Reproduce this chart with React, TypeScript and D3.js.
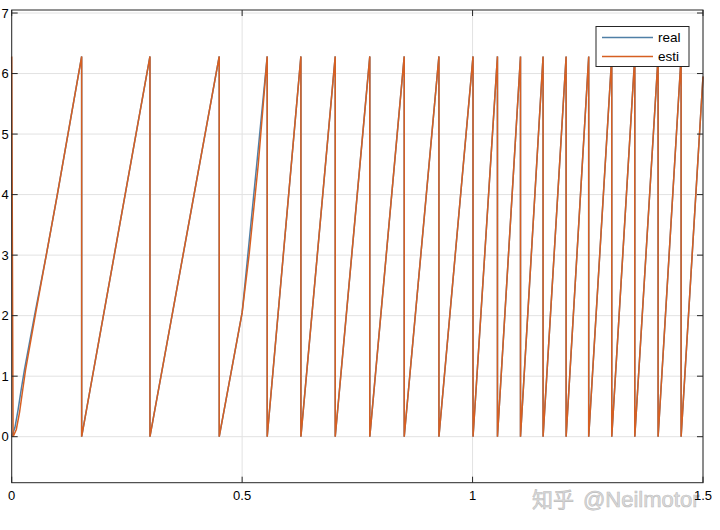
import { useEffect, useRef } from 'react';
import * as d3 from 'd3';

// angle wraps from 2*pi back to 0 at these times (s)
const wrapTimes = [0.1518, 0.300, 0.4503, 0.5544, 0.6275, 0.702, 0.777, 0.8517, 0.927, 1.001,
  1.054, 1.104, 1.153, 1.203, 1.252, 1.302, 1.352, 1.4026, 1.4525];
const peakValue = 6.283;

// start-up ramp before the first wrap
const estiStartT = [0, 0.003, 0.01, 0.017, 0.024, 0.03, 0.051, 0.075, 0.099];
const estiStartV = [6.283, 0, 0.12, 0.4, 0.78, 1.1, 2, 3, 4];
const realStartT = [0, 0.007, 0.014, 0.021, 0.028, 0.05, 0.075, 0.099];
const realStartV = [0, 0.15, 0.45, 0.8, 1.12, 2.02, 3, 4];

// speed change around t = 0.5
const estiMidT = [0.5, 0.515, 0.535];
const estiMidV = [2.05, 3.0, 4.5];
const realMidT = [0.5, 0.513, 0.533];
const realMidV = [2.05, 3.05, 4.6];

const endT = 1.5;
const endV = 5.95;

const xTicks = [0, 0.5, 1, 1.5];
const yTicks = [0, 1, 2, 3, 4, 5, 6, 7];

type Pt = [number, number];

function buildSeries(startT: number[], startV: number[], midT: number[], midV: number[]): Pt[] {
  const pts: Pt[] = startT.map((t, i) => [t, startV[i]]);
  wrapTimes.forEach((t, i) => {
    pts.push([t, peakValue], [t, 0]);
    if (i === 2) midT.forEach((m, j) => pts.push([m, midV[j]]));
  });
  pts.push([endT, endV]);
  return pts;
}

export default function App() {
  const ref = useRef<SVGSVGElement>(null);

  useEffect(() => {
    const svgEl = ref.current;
    if (!svgEl) return;
    const svg = d3.select(svgEl);
    svg.selectAll('*').remove();

    const W = 720, H = 530;
    const L = 11.7, R = 703, T = 10, B = 482.7;
    const font = '"Liberation Sans", Arial, sans-serif';
    const blue = '#4f7fa6';
    const orange = '#d65f22';

    const x = d3.scaleLinear().domain([0, 1.5]).range([L, R]);
    const y = d3.scaleLinear().domain([-0.76, 7.05]).range([B, T]);

    svg.append('rect').attr('width', W).attr('height', H).attr('fill', '#fff');

    // grid
    const grid = svg.append('g');
    yTicks.forEach(v => {
      grid.append('line').attr('x1', L).attr('x2', R).attr('y1', y(v)).attr('y2', y(v))
        .attr('stroke', '#e2e2e2').attr('stroke-width', 1);
    });
    xTicks.forEach(v => {
      grid.append('line').attr('x1', x(v)).attr('x2', x(v)).attr('y1', T).attr('y2', B)
        .attr('stroke', '#e2e2e2').attr('stroke-width', 1);
    });

    const line = d3.line<Pt>().x(d => x(d[0])).y(d => y(d[1]));
    const real = buildSeries(realStartT, realStartV, realMidT, realMidV);
    const esti = buildSeries(estiStartT, estiStartV, estiMidT, estiMidV);

    const plot = svg.append('g');
    plot.append('path').datum(real).attr('d', line).attr('fill', 'none')
      .attr('stroke', blue).attr('stroke-width', 1.5);
    plot.append('path').datum(esti).attr('d', line).attr('fill', 'none')
      .attr('stroke', orange).attr('stroke-width', 1.5);

    // watermark
    svg.append('text').attr('x', 532).attr('y', 507).attr('font-family', '"Noto Sans CJK SC", sans-serif')
      .attr('font-size', 21).attr('fill', '#dadada').attr('stroke', '#bdbdbd').attr('stroke-width', 0.6)
      .text('知乎');
    svg.append('text').attr('x', 583).attr('y', 507).attr('font-family', font)
      .attr('font-size', 22).attr('fill', '#dcdcdc').attr('stroke', '#bdbdbd').attr('stroke-width', 0.6)
      .text('@Neilmotor');

    // axes box
    const axis = svg.append('g');
    axis.append('rect').attr('x', L).attr('y', T).attr('width', R - L).attr('height', B - T)
      .attr('fill', 'none').attr('stroke', '#262626').attr('stroke-width', 1);
    const tk = 6;
    yTicks.forEach(v => {
      axis.append('line').attr('x1', L).attr('x2', L + tk).attr('y1', y(v)).attr('y2', y(v)).attr('stroke', '#262626');
      axis.append('line').attr('x1', R).attr('x2', R - tk).attr('y1', y(v)).attr('y2', y(v)).attr('stroke', '#262626');
      axis.append('text').attr('x', L - 3).attr('y', y(v)).attr('dy', '0.35em').attr('text-anchor', 'end')
        .attr('font-family', font).attr('font-size', 13).attr('fill', '#000').text(d3.format('d')(v));
    });
    xTicks.forEach(v => {
      axis.append('line').attr('x1', x(v)).attr('x2', x(v)).attr('y1', B).attr('y2', B - tk).attr('stroke', '#262626');
      axis.append('line').attr('x1', x(v)).attr('x2', x(v)).attr('y1', T).attr('y2', T + tk).attr('stroke', '#262626');
      axis.append('text').attr('x', x(v)).attr('y', 500).attr('text-anchor', 'middle')
        .attr('font-family', font).attr('font-size', 13).attr('fill', '#000').text(String(v));
    });

    // legend
    const lg = svg.append('g');
    lg.append('rect').attr('x', 596).attr('y', 26.5).attr('width', 93).attr('height', 40)
      .attr('fill', '#fff').attr('stroke', '#262626').attr('stroke-width', 1);
    [['real', blue], ['esti', orange]].forEach(([name, color], i) => {
      const yy = 37.5 + i * 19;
      lg.append('line').attr('x1', 602).attr('x2', 653).attr('y1', yy).attr('y2', yy)
        .attr('stroke', color).attr('stroke-width', 1.5);
      lg.append('text').attr('x', 658).attr('y', yy).attr('dy', '0.35em')
        .attr('font-family', font).attr('font-size', 13.5).attr('fill', '#000').text(name);
    });
  }, []);

  return (
    <div style={{ position: 'fixed', left: 0, top: 0 }}>
      <svg ref={ref} width={720} height={530} style={{ display: 'block' }} />
    </div>
  );
}
